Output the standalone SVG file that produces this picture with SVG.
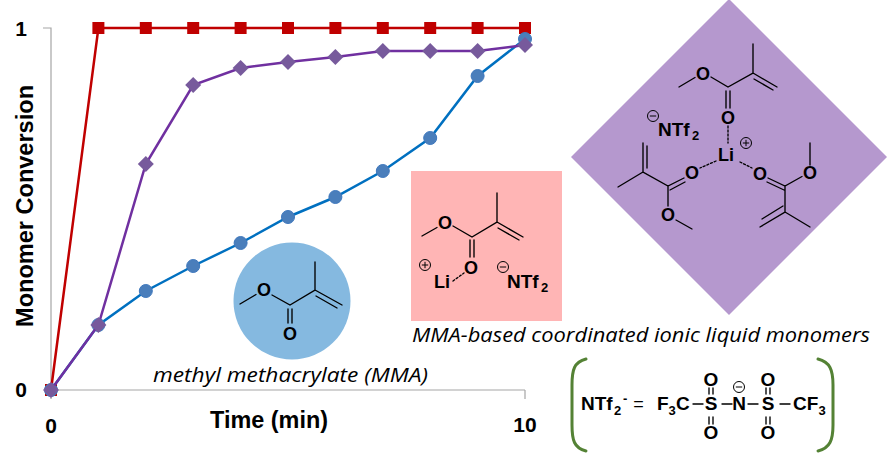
<svg xmlns="http://www.w3.org/2000/svg" xmlns:xlink="http://www.w3.org/1999/xlink" width="887" height="455" viewBox="0 0 887 455">
<style>
.ax{stroke:#a6a6a6;stroke-width:1.2;fill:none}
.tk{font-family:"Liberation Sans",Arial,sans-serif;font-weight:bold;fill:#000}
.cap{font-family:"Open Sans","Liberation Sans",sans-serif;font-style:italic;font-size:20px;fill:#000}
.b{stroke:#000;stroke-width:1.35;fill:none;stroke-linecap:round}
.d{stroke-dasharray:2 2}
.l{font-family:"Liberation Sans",Arial,sans-serif;font-weight:bold;font-size:18px;text-anchor:middle;fill:#000}
.ls{font-family:"Liberation Sans",Arial,sans-serif;font-weight:bold;font-size:19px;fill:#000}
.sub{font-family:"Liberation Sans",Arial,sans-serif;font-weight:bold;font-size:13px;fill:#000}
.n{font-family:"Liberation Sans",Arial,sans-serif;font-weight:bold;font-size:19px;fill:#000}
.ns{font-family:"Liberation Sans",Arial,sans-serif;font-weight:bold;font-size:13px;fill:#000}
.chg{stroke:#000;stroke-width:1;fill:none}
.red{stroke:#c00000;stroke-width:2.5;fill:none}
.blu{stroke:#0070c0;stroke-width:2.5;fill:none}
.pur{stroke:#7030a0;stroke-width:2.5;fill:none}
.brk{stroke:#548235;stroke-width:3;fill:none;stroke-linecap:round}
</style>
<defs>
<rect id="sq" x="-6" y="-6" width="12" height="12" fill="#c00000"/>
<circle id="ci" r="6.5" fill="#4a7ebb" stroke="#3f78bd" stroke-width="1"/>
<polygon id="di" points="0,-8 8,0 0,8 -8,0" fill="#775a9c"/>
<g id="plus"><circle r="5.5" class="chg"/><path d="M-3.2,0H3.2M0,-3.2V3.2" class="chg"/></g>
<g id="minus"><circle r="5.5" class="chg"/><path d="M-3.2,0H3.2" class="chg"/></g>
</defs>
<rect width="887" height="455" fill="#fff"/>

<g id="chart">
<g id="axes">
<path class="ax" d="M43,28H51V390M51,390H525M51,390V399M525,390V399"/>
<text class="tk" x="21" y="36" font-size="21" text-anchor="middle">1</text>
<text class="tk" x="21" y="397" font-size="21" text-anchor="middle">0</text>
<text class="tk" x="51" y="433" font-size="21" text-anchor="middle">0</text>
<text class="tk" x="525" y="432" font-size="21" text-anchor="middle">10</text>
<text class="tk" x="269" y="428" font-size="23" text-anchor="middle" textLength="118" lengthAdjust="spacingAndGlyphs">Time (min)</text>
<text class="tk" font-size="23" text-anchor="middle" transform="translate(33,206) rotate(-90)" textLength="242" lengthAdjust="spacingAndGlyphs">Monomer Conversion</text>
</g>
<g id="series-red">
<polyline class="red" points="51,390 98.4,28 145.8,28 193.2,28 240.6,28 288,28 335.4,28 382.8,28 430.2,28 477.6,28 525,28"/>
<use xlink:href="#sq" x="51" y="390"/><use xlink:href="#sq" x="98.4" y="28"/><use xlink:href="#sq" x="145.8" y="28"/><use xlink:href="#sq" x="193.2" y="28"/><use xlink:href="#sq" x="240.6" y="28"/><use xlink:href="#sq" x="288" y="28"/><use xlink:href="#sq" x="335.4" y="28"/><use xlink:href="#sq" x="382.8" y="28"/><use xlink:href="#sq" x="430.2" y="28"/><use xlink:href="#sq" x="477.6" y="28"/><use xlink:href="#sq" x="525" y="28"/>
</g>
<g id="series-blue">
<polyline class="blu" points="51,390 98.4,325 145.8,291 193.2,266 240.6,243 288,217 335.4,197 382.8,171 430.2,138 477.6,76 525,39"/>
<use xlink:href="#ci" x="51" y="390"/><use xlink:href="#ci" x="98.4" y="325"/><use xlink:href="#ci" x="145.8" y="291"/><use xlink:href="#ci" x="193.2" y="266"/><use xlink:href="#ci" x="240.6" y="243"/><use xlink:href="#ci" x="288" y="217"/><use xlink:href="#ci" x="335.4" y="197"/><use xlink:href="#ci" x="382.8" y="171"/><use xlink:href="#ci" x="430.2" y="138"/><use xlink:href="#ci" x="477.6" y="76"/><use xlink:href="#ci" x="525" y="39"/>
</g>
<g id="series-purple">
<polyline class="pur" points="51,390 98.4,325 145.8,164 193.2,85 240.6,68 288,62 335.4,57 382.8,51 430.2,51 477.6,51 525,45"/>
<use xlink:href="#di" x="51" y="390"/><use xlink:href="#di" x="98.4" y="325"/><use xlink:href="#di" x="145.8" y="164"/><use xlink:href="#di" x="193.2" y="85"/><use xlink:href="#di" x="240.6" y="68"/><use xlink:href="#di" x="288" y="62"/><use xlink:href="#di" x="335.4" y="57"/><use xlink:href="#di" x="382.8" y="51"/><use xlink:href="#di" x="430.2" y="51"/><use xlink:href="#di" x="477.6" y="51"/><use xlink:href="#di" x="525" y="45"/>
</g>
</g>

<g id="mma">
<circle cx="292" cy="301" r="58.5" fill="#85b9e0"/>
<path class="b" d="M240,304L256,294.5M272,295L290,305L315,290V262M315,290L342,305M316,296L337,308M288,309V323M292,309V323"/>
<text class="l" x="264" y="295.5">O</text>
<text class="l" x="290" y="339.5">O</text>
<text class="cap" x="153" y="382" textLength="275" lengthAdjust="spacingAndGlyphs">methyl methacrylate (MMA)</text>
</g>

<g id="mma-li">
<rect x="411" y="171" width="151" height="150" fill="#ffb5b5"/>
<path class="b" d="M422,236L437,227.5M453,226L472,237L497,222V193M497,222L523,237M498,228L519,240M470,240V257M474,240V257"/>
<path class="b d" d="M453,281L464,273"/>
<text class="l" x="445" y="228.5">O</text>
<text class="l" x="471" y="273.5">O</text>
<text class="l" x="442" y="288">Li</text>
<use xlink:href="#plus" x="425" y="265"/>
<use xlink:href="#minus" x="503" y="267"/>
<text class="ls" x="507" y="288">NTf</text>
<text class="sub" x="541" y="292">2</text>
<text class="cap" x="412" y="342" textLength="458" lengthAdjust="spacingAndGlyphs">MMA-based coordinated ionic liquid monomers</text>
</g>

<g id="complex">
<polygon points="729,-1 887,157 729,315 571,157" fill="#b598ce"/>
<path class="b" d="M679,87L695,77.5M711,77L728,87L753,73V44M753,73L777,87M754,79L773,90M726,91V108M730,91V108"/>
<path class="b d" d="M728,126V143M716,161L700,168M740,162L752,168"/>
<path class="b" d="M684,178L668,186L643,172V143M647,168V146M643,172L618,187M668,186V206M676,220L692,229M685,182L670,190"/>
<path class="b" d="M768,178L785,186L802,176.5M810,165V143M785,186V212L760,227M783,206L762,219M785,212L810,227M767,182L784,190"/>
<text class="l" x="703" y="79.5">O</text>
<text class="l" x="728" y="123.5">O</text>
<text class="l" x="726" y="161">Li</text>
<use xlink:href="#plus" x="746" y="143"/>
<use xlink:href="#minus" x="653" y="116"/>
<text class="ls" x="658" y="136">NTf</text>
<text class="sub" x="692" y="140">2</text>
<text class="l" x="692" y="178.5">O</text>
<text class="l" x="668" y="220.5">O</text>
<text class="l" x="760" y="179.5">O</text>
<text class="l" x="810" y="178.5">O</text>
</g>

<g id="ntf2">
<path class="brk" d="M586,359C574,362 572,370 572,385V425C572,440 574,448 586,451"/>
<path class="brk" d="M818,359C830,362 833,370 833,385V425C833,440 830,448 818,451"/>
<text class="n" x="581" y="410">NTf</text>
<text class="ns" x="614" y="415">2</text>
<text class="ns" x="623" y="403">-</text>
<text x="638.5" y="410" font-family="Liberation Sans,Arial,sans-serif" font-size="18" text-anchor="middle">=</text>
<text class="n" x="657" y="410">F</text>
<text class="ns" x="668.5" y="415">3</text>
<text class="n" x="676" y="410">C</text>
<text class="n" x="711" y="410" text-anchor="middle">S</text>
<text class="n" x="711" y="386" text-anchor="middle">O</text>
<text class="n" x="711" y="439" text-anchor="middle">O</text>
<text class="n" x="739" y="410" text-anchor="middle">N</text>
<text class="n" x="768" y="410" text-anchor="middle">S</text>
<text class="n" x="768" y="386" text-anchor="middle">O</text>
<text class="n" x="768" y="439" text-anchor="middle">O</text>
<text class="n" x="793" y="410">CF</text>
<text class="ns" x="818.5" y="415">3</text>
<use xlink:href="#minus" x="739" y="387"/>
<path class="b" d="M693,404H703M722,404H732M748,404H758M780,404H790M709,388V394M713,388V394M709,417V424M713,417V424M766,388V394M770,388V394M766,417V424M770,417V424"/>
</g>
</svg>
